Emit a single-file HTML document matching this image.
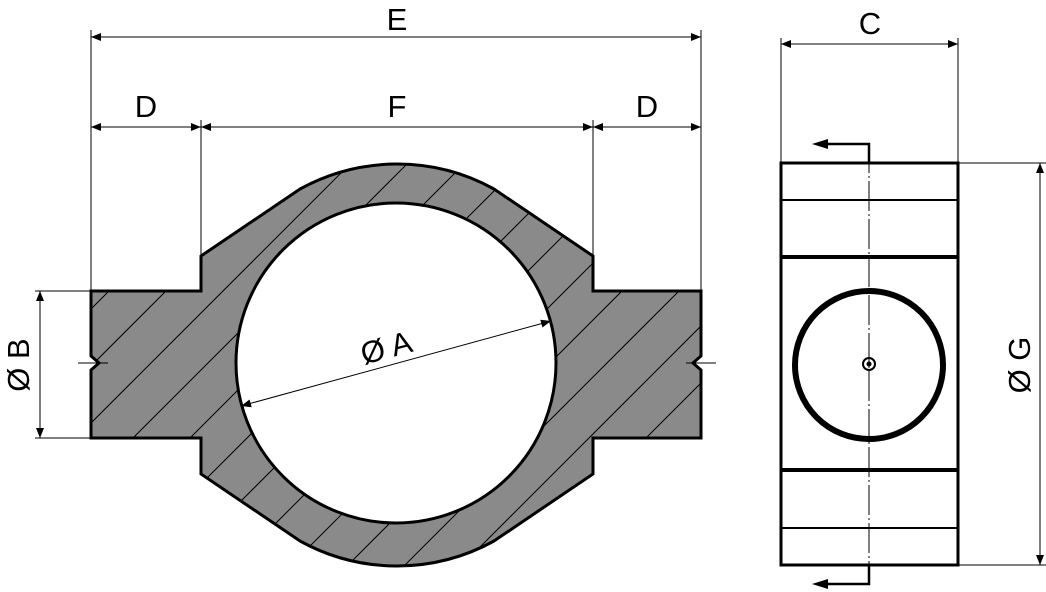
<!DOCTYPE html>
<html><head><meta charset="utf-8"><style>
html,body{margin:0;padding:0;background:#fff;width:1046px;height:592px;overflow:hidden;position:relative;}
svg{display:block;position:absolute;left:0;top:0;}
text{font-family:"Liberation Sans",sans-serif;font-size:31px;fill:#000;}
</style></head><body>
<svg width="1046" height="592" viewBox="0 0 1046 592" xmlns="http://www.w3.org/2000/svg">
<defs>
<marker id="a" viewBox="0 0 10 10" refX="10" refY="5" markerWidth="20" markerHeight="10" markerUnits="userSpaceOnUse" orient="auto-start-reverse">
<path d="M0,1 L10,5 L0,9 Z" fill="#000"/></marker>
<clipPath id="body">
<path id="shape" fill-rule="evenodd" d="M91,291 L201,291 L201,256 L300,189 A201,201 0 0 1 494,189 L593,256 L593,291 L701,291 L701,356 L693,363 L701,370 L701,438 L593,438 L593,474 L494,541 A201,201 0 0 1 300,541 L201,474 L201,438 L91,438 L91,370 L99,363 L91,356 Z M236,363 A160,160 0 1 0 556,363 A160,160 0 1 0 236,363 Z"/>
</clipPath>
</defs>
<use href="#shape" fill="#8a8a8a"/>
<g clip-path="url(#body)" stroke="#000" stroke-width="1">
<path d="M-180,580 L250,150 M-123,580 L307,150 M-66,580 L364,150 M-9,580 L421,150 M48,580 L478,150 M105,580 L535,150 M162,580 L592,150 M219,580 L649,150 M276,580 L706,150 M333,580 L763,150 M390,580 L820,150 M447,580 L877,150 M504,580 L934,150 M561,580 L991,150"/>
</g>
<use href="#shape" fill="none" stroke="#000" stroke-width="3"/>
<path d="M78,363 H108 M686,363 H716" stroke="#000" stroke-width="1"/>
<g stroke="#000" stroke-width="1" fill="none">
<path d="M91,30 V291 M701,30 V291 M201,120 V256 M593,120 V256 M35,291 H91 M35,438 H91"/>
<line x1="91" y1="37" x2="701" y2="37" marker-start="url(#a)" marker-end="url(#a)"/>
<line x1="91" y1="127" x2="201" y2="127" marker-start="url(#a)" marker-end="url(#a)"/>
<line x1="201" y1="127" x2="593" y2="127" marker-start="url(#a)" marker-end="url(#a)"/>
<line x1="593" y1="127" x2="701" y2="127" marker-start="url(#a)" marker-end="url(#a)"/>
<line x1="40" y1="291" x2="40" y2="438" marker-start="url(#a)" marker-end="url(#a)"/>
<line x1="241" y1="406" x2="551" y2="321" marker-start="url(#a)" marker-end="url(#a)"/>
</g>
<text x="397" y="30" text-anchor="middle">E</text>
<text x="146" y="117" text-anchor="middle">D</text>
<text x="397" y="117" text-anchor="middle">F</text>
<text x="647" y="117" text-anchor="middle">D</text>
<text transform="translate(29,365) rotate(-90)" text-anchor="middle">Ø B</text>
<text transform="translate(389,358) rotate(-15)" text-anchor="middle">Ø A</text>
<g stroke="#000" fill="none">
<rect x="781" y="163" width="177" height="402" stroke-width="3"/>
<path d="M781,200 H958 M781,528 H958" stroke-width="2"/>
<path d="M781,257 H958 M781,470 H958" stroke-width="4"/>
<circle cx="869" cy="365" r="74" stroke-width="6"/>
<circle cx="869" cy="364" r="6" stroke-width="2"/>
<path d="M869,143 V585" stroke-width="1" stroke-dasharray="30,3,2,3"/>
<path d="M869,163 V144 H825 M869,565 V584 H825" stroke-width="2.5"/>
<path d="M812,144 L828,139 L828,149 Z M812,584 L828,579 L828,589 Z" fill="#000" stroke="none"/>
<path d="M781,38 V163 M958,38 V163 M958,163 H1046 M958,565 H1046" stroke-width="1"/>
<line x1="781" y1="44" x2="958" y2="44" stroke-width="1" marker-start="url(#a)" marker-end="url(#a)"/>
<line x1="1040" y1="163" x2="1040" y2="565" stroke-width="1" marker-start="url(#a)" marker-end="url(#a)"/>
</g>
<circle cx="869" cy="364" r="2.5" fill="#000"/>
<text x="870" y="34" text-anchor="middle">C</text>
<text transform="translate(1030,365) rotate(-90)" text-anchor="middle">Ø G</text>
</svg>
</body></html>
